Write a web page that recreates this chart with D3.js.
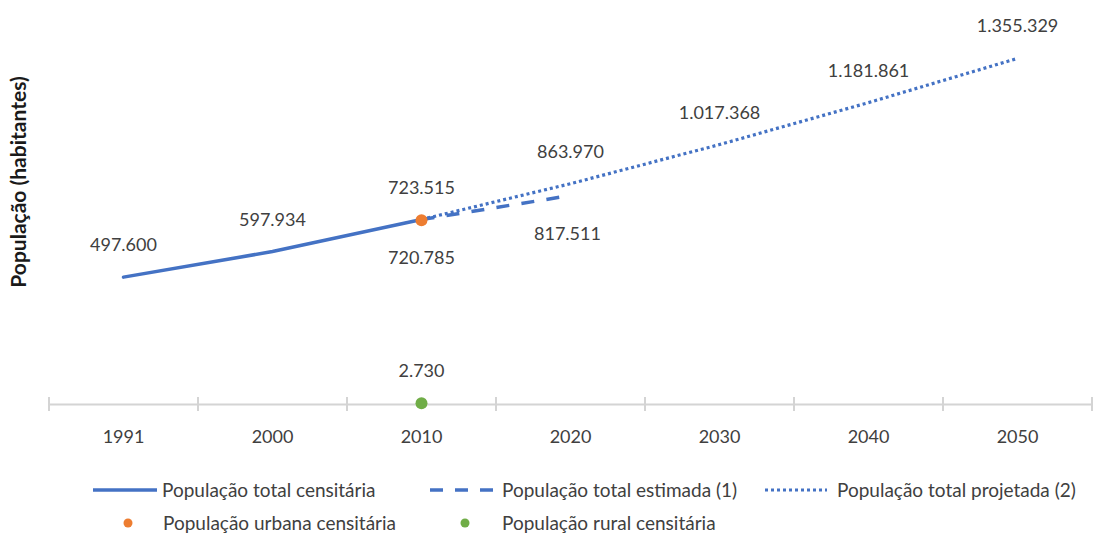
<!DOCTYPE html>
<html><head><meta charset="utf-8">
<script src="https://cdn.jsdelivr.net/npm/d3@7"></script>
<style>
html,body{margin:0;padding:0;background:#fff;}
svg text{font-family:Lato, "Open Sans", sans-serif;fill:#404040;}
</style></head>
<body>
<svg id="chart" width="1094" height="538"></svg>
<script>
const categories = ["1991","2000","2010","2020","2030","2040","2050"];
const totalCensitaria = [["1991",497600],["2000",597934],["2010",723515]];
const totalEstimada = [["2010",723515],["2020",817511]];
const totalProjetada = [["2010",723515],["2020",863970],["2030",1017368],["2040",1181861],["2050",1355329]];
const urbanaCensitaria = [["2010",720785]];
const ruralCensitaria = [["2010",2730]];
const labelsAbove = [["1991",497600,"497.600"],["2000",597934,"597.934"],["2010",723515,"723.515"],["2020",863970,"863.970"],["2030",1017368,"1.017.368"],["2040",1181861,"1.181.861"],["2050",1355329,"1.355.329"],["2010",2730,"2.730"]];
const labelsBelow = [["2010",720785,"720.785"],["2020",817511,"817.511"]];
const legendRow1 = ["População total censitária","População total estimada (1)","População total projetada (2)"];
const legendRow2 = ["População urbana censitária","População rural censitária"];

const blue="#4472C4", orange="#ED7D31", green="#70AD47";
const svg=d3.select("#chart");
const x=d3.scaleBand().domain(categories).range([49,1092]).padding(0);
const cx=c=>x(c)+x.bandwidth()/2;
const y=d3.scaleLinear().domain([0,1400000]).range([404,47]);

// axis
const axisG=svg.append("g").attr("transform","translate(0,404)");
const ax=d3.axisBottom(x).tickSize(0).tickPadding(26);
axisG.call(ax);
axisG.select(".domain").attr("stroke","#d4d4d4").attr("stroke-width",2);
axisG.selectAll(".tick text").style("font-size","18px").attr("fill","#404040").attr("font-family","Lato");
const bounds=categories.map(c=>x(c)).concat([x(categories[categories.length-1])+x.bandwidth()]);
axisG.selectAll("line.bt").data(bounds).enter().append("line").attr("class","bt")
  .attr("x1",d=>d).attr("x2",d=>d).attr("y1",-7).attr("y2",7)
  .attr("stroke","#d4d4d4").attr("stroke-width",2);

const line=d3.line().x(d=>cx(d[0])).y(d=>y(d[1]));
svg.append("path").datum(totalProjetada).attr("d",line).attr("fill","none")
  .attr("stroke",blue).attr("stroke-width",3.2).attr("stroke-dasharray","3,3");
svg.append("path").datum(totalEstimada).attr("d",line).attr("fill","none")
  .attr("stroke",blue).attr("stroke-width",3.5).attr("stroke-dasharray","13,12.3");
svg.append("path").datum(totalCensitaria).attr("d",line).attr("fill","none")
  .attr("stroke",blue).attr("stroke-width",3.5).attr("stroke-linecap","round");
svg.selectAll("circle.u").data(urbanaCensitaria).enter().append("circle")
  .attr("cx",d=>cx(d[0])).attr("cy",d=>y(d[1])).attr("r",6).attr("fill",orange);
svg.selectAll("circle.r").data(ruralCensitaria).enter().append("circle")
  .attr("cx",d=>cx(d[0])).attr("cy",d=>y(d[1])).attr("r",6).attr("fill",green);

svg.selectAll("text.la").data(labelsAbove).enter().append("text")
  .attr("x",d=>cx(d[0])).attr("y",d=>y(d[1])-26).attr("text-anchor","middle")
  .style("font-size","18px").text(d=>d[2]);
svg.selectAll("text.lb").data(labelsBelow).enter().append("text")
  .attr("x",d=>cx(d[0])-(d[0]==="2020"?3:0)).attr("y",d=>y(d[1])+44).attr("text-anchor","middle")
  .style("font-size","18px").text(d=>d[2]);

// y title
svg.append("text").attr("transform","translate(26,182) rotate(-90)").attr("text-anchor","middle")
  .style("font-size","21px").style("font-weight","bold").style("fill","#1a1a1a")
  .text("População (habitantes)");

// legend
const lg=svg.append("g");
const r1y=490, r2y=523;
const sym1=[[93,157,null],[430,495,"13,12"],[765,827,"3,3"]];
const txt1=[162,502,837];
legendRow1.forEach((t,i)=>{
  lg.append("line").attr("x1",sym1[i][0]).attr("x2",sym1[i][1]).attr("y1",r1y).attr("y2",r1y)
    .attr("stroke",blue).attr("stroke-width",i===2?3:3.5).attr("stroke-dasharray",sym1[i][2]);
  lg.append("text").attr("x",txt1[i]).attr("y",r1y+6.5).style("font-size","19px").text(t);
});
const dots2=[[128,orange],[465,green]];
const txt2=[163,502];
legendRow2.forEach((t,i)=>{
  lg.append("circle").attr("cx",dots2[i][0]).attr("cy",r2y).attr("r",4.5).attr("fill",dots2[i][1]);
  lg.append("text").attr("x",txt2[i]).attr("y",r2y+6.5).style("font-size","19px").text(t);
});
</script>
</body></html>
